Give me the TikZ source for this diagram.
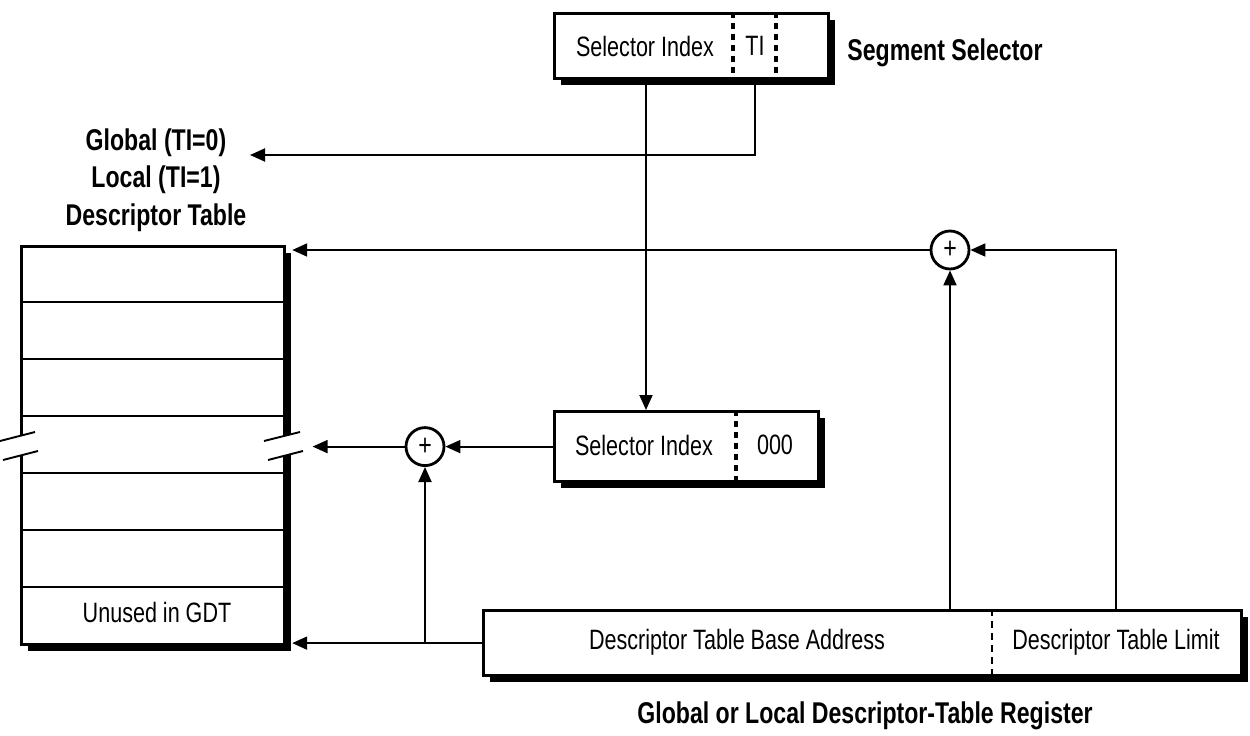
\documentclass[tikz,border=0pt]{standalone}
\usepackage{fontspec}
\setmainfont{Liberation Sans}[FakeStretch=0.77]
\usetikzlibrary{arrows.meta,shadows,calc}
\begin{document}
\begin{tikzpicture}[x=1pt,y=-1pt,
  box/.style={draw,line width=3.2pt,fill=white,rectangle,inner sep=0pt,
    drop shadow={shadow xshift=6pt,shadow yshift=-6pt,fill=black,opacity=1}},
  txt/.style={inner sep=0pt,font=\fontsize{28}{32}\selectfont},
  lbl/.style={inner sep=0pt,font=\fontsize{30}{37.5}\selectfont\bfseries,align=center},
  plus/.style={circle,draw,line width=2.8pt,minimum size=38pt,inner sep=0pt,fill=white,
    font=\fontsize{30}{30}\selectfont},
  conn/.style={line width=1.9pt,-{Triangle[length=15pt,width=13pt]}},
  thin/.style={line width=1.9pt},
  thickdash/.style={line width=3.2pt,dash pattern=on 6pt off 5pt},
  thindash/.style={line width=1.7pt,dash pattern=on 7pt off 5pt}]
\useasboundingbox (0,0) rectangle (1250,736);

% x positions
\coordinate (xa) at (646,0);
\coordinate (xt) at (755,0);
\coordinate (xd1) at (733,0);
\coordinate (xd2) at (776,0);
\coordinate (xd3) at (736,0);
\coordinate (xd4) at (992,0);
\coordinate (xb) at (950,0);
\coordinate (xl) at (1116,0);
\coordinate (xm) at (425,0);

% segment selector
\node[box,minimum width=274pt,minimum height=65pt,anchor=north west] (sel) at (553,12) {};
\draw[thickdash] (sel.north -| xd1) -- (sel.south -| xd1);
\draw[thickdash] (sel.north -| xd2) -- (sel.south -| xd2);
\node[txt] (selt) at (645,46) {Selector Index};
\node[txt] (tit) at (755,46) {TI};
\node[lbl] (seglabel) at (945,53) {Segment Selector};

% descriptor table
\node[box,minimum width=263pt,minimum height=398pt,anchor=north west] (tbl) at (20,245) {};
\foreach \yy in {302,359,416,473,530,587} \draw[thin] (20,\yy) -- (283,\yy);
\node[txt] (unused) at (157,612) {Unused in GDT};
\fill[white] (0,441) -- (35,432) -- (38,451) -- (3,460) -- cycle;
\draw[thin] (0,441) -- (35,432);
\draw[thin] (3,460) -- (38,451);
\fill[white] (264,441) -- (300,432) -- (303,451) -- (268,460) -- cycle;
\draw[thin] (264,441) -- (300,432);
\draw[thin] (268,460) -- (303,451);
\coordinate (tr) at ([xshift=6pt]tbl.east);

\node[lbl] (glabel) at (156,180) {Global (TI=0)\\Local (TI=1)\\Descriptor Table};
\coordinate (gtip) at (250,155);

% selector index box
\node[box,minimum width=264pt,minimum height=70pt,anchor=north west] (idx) at (553,410) {};
\draw[thickdash] (idx.north -| xd3) -- (idx.south -| xd3);
\node[txt] (idxt) at (644,445) {Selector Index};
\node[txt] (zero) at (775,445) {000};

% register
\node[box,minimum width=758pt,minimum height=65pt,anchor=north west] (reg) at (482,609) {};
\draw[thindash] (reg.north -| xd4) -- (reg.south -| xd4);
\node[txt] (base) at (737,642) {Descriptor Table Base Address};
\node[txt] (limit) at (1116,642) {Descriptor Table Limit};
\node[lbl] (reglabel) at (865,716) {Global or Local Descriptor-Table Register};

% adders
\node[plus] (p1) at (xm |- idx.west) {+};
\node[plus] (p2) at (950,250) {+};
\coordinate (brk) at ([xshift=-92pt]p1.west);

% connectors
\draw[conn] (sel.south -| xa) -- (idx.north -| xa);
\draw[conn] (sel.south -| xt) |- (gtip);
\draw[conn] (idx.west) -- (p1.east);
\draw[conn] (p1.west) -- (brk);
\draw[conn] (reg.west) -- (tr |- reg.west);
\draw[conn] (reg.west -| xm) -- (p1.south);
\draw[conn] (reg.north -| xb) -- (p2.south);
\draw[conn] (reg.north -| xl) |- (p2.east);
\draw[conn] (p2.west) -- (tr |- p2);
\end{tikzpicture}
\end{document}
